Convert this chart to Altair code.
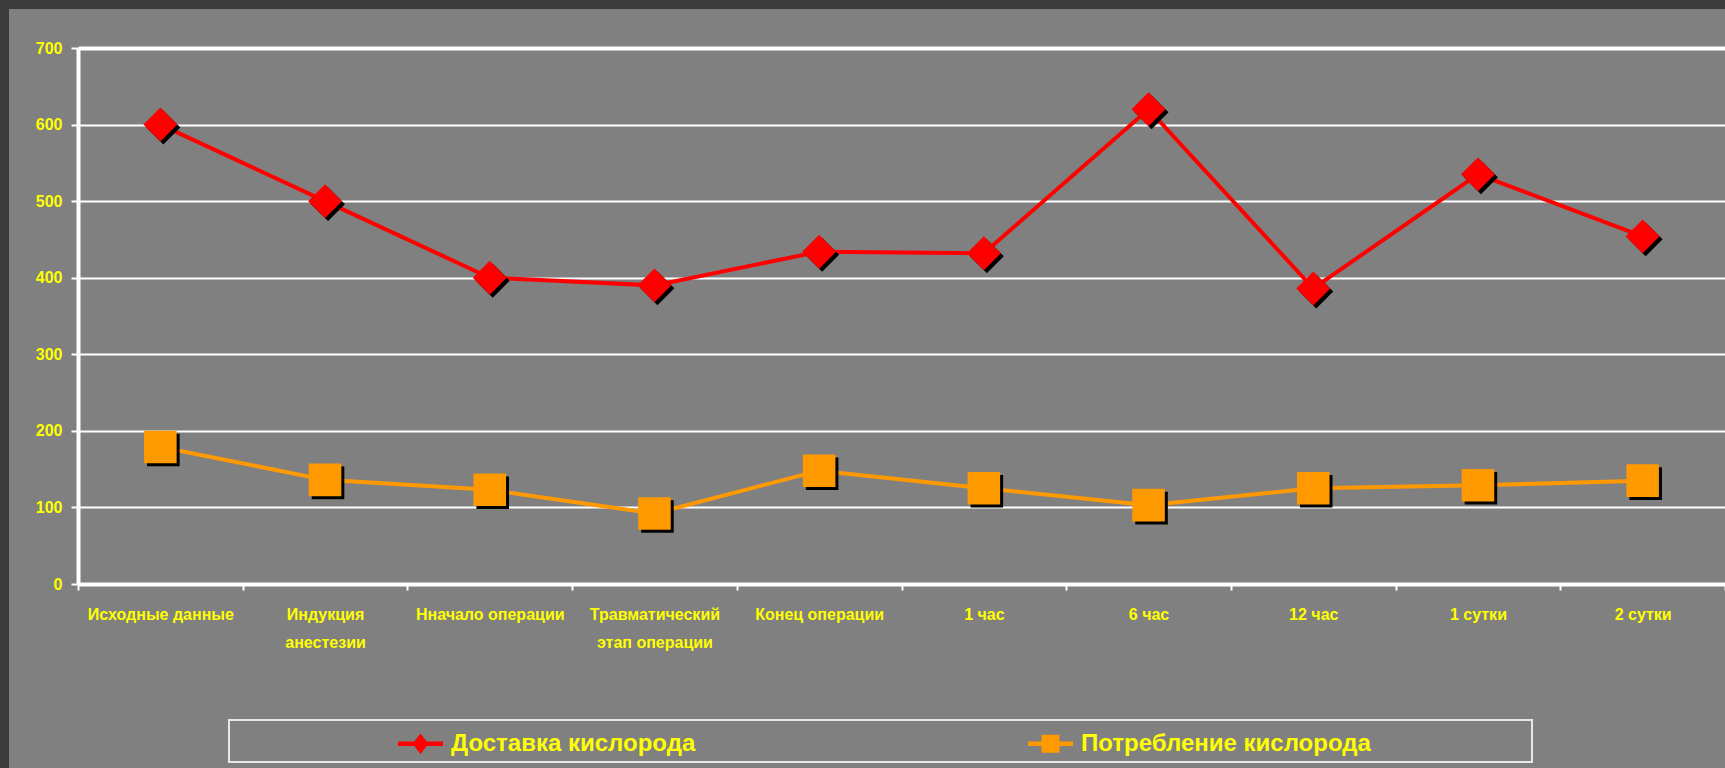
import altair as alt
import pandas as pd

# ---------------- data ----------------
categories = [
    "Исходные данные",
    "Индукция\nанестезии",
    "Нначало операции",
    "Травматический\nэтап операции",
    "Конец операции",
    "1 час",
    "6 час",
    "12 час",
    "1 сутки",
    "2 сутки",
]
series_names = ["Доставка кислорода", "Потребление кислорода"]
delivery = [600, 500, 400, 390, 434, 432, 620, 386, 535, 454]
consumption = [179, 136, 123, 92, 148, 125, 103, 125, 129, 135]
y_ticks = [0, 100, 200, 300, 400, 500, 600, 700]

series_colors = ["#FF0000", "#FF9900"]
marker_shapes = ["diamond", "square"]
marker_sizes = [1150, 1060]
legend_shapes = [
    "M-1,-0.1H1V0.1H-1Z M0,-0.46L0.36,0L0,0.46L-0.36,0Z",
    "M-1,-0.1H1V0.1H-1Z M-0.4,-0.4H0.4V0.4H-0.4Z",
]

rows = []
for c, v in zip(categories, delivery):
    rows.append({"cat": c, "series": series_names[0], "value": v})
for c, v in zip(categories, consumption):
    rows.append({"cat": c, "series": series_names[1], "value": v})
df = pd.DataFrame(rows)
one = pd.DataFrame({"k": [0]})

# ---------------- style ----------------
FONT = "'Liberation Sans', Arial, sans-serif"
YELLOW = "#FFFF00"
W, H = 1647, 536
PAD_L, PAD_T = 78, 48

x_enc = alt.X(
    "cat:N",
    sort=categories,
    scale=alt.Scale(domain=categories, paddingInner=0, paddingOuter=0),
    axis=alt.Axis(
        title=None,
        labelExpr="split(datum.label, '\\n')",
        labelAngle=0,
        labelColor=YELLOW,
        labelFont=FONT,
        labelFontSize=16,
        labelFontWeight="bold",
        labelLineHeight=28,
        labelBaseline="top",
        labelPadding=16,
        labelLimit=300,
        tickBand="extent",
        tickColor="white",
        tickWidth=2,
        tickSize=6,
        domainColor="white",
        domainWidth=4,
        grid=False,
    ),
)
y_enc = alt.Y(
    "value:Q",
    scale=alt.Scale(domain=[0, 700], nice=False, zero=True),
    axis=alt.Axis(
        title=None,
        values=y_ticks,
        labelColor=YELLOW,
        labelFont=FONT,
        labelFontSize=16,
        labelFontWeight="bold",
        labelPadding=9,
        tickColor="white",
        tickWidth=2,
        tickSize=7,
        domainColor="white",
        domainWidth=4,
        grid=True,
        gridColor="white",
        gridOpacity=1,
        gridWidth={"condition": {"test": "datum.value === 700", "value": 4}, "value": 2},
    ),
)

color_scale = alt.Scale(domain=series_names, range=series_colors)
shape_scale = alt.Scale(domain=series_names, range=marker_shapes)
size_scale = alt.Scale(domain=series_names, range=marker_sizes)

base = alt.Chart(df)

lines = base.mark_line(strokeWidth=4).encode(
    x=x_enc,
    y=y_enc,
    color=alt.Color("series:N", scale=color_scale, legend=None),
    detail="series:N",
)

shadows = base.mark_point(filled=True, color="black", opacity=1, xOffset=3, yOffset=3).encode(
    x=x_enc,
    y=y_enc,
    shape=alt.Shape("series:N", scale=shape_scale, legend=None),
    size=alt.Size("series:N", scale=size_scale, legend=None),
)

points = base.mark_point(filled=True, opacity=1).encode(
    x=x_enc,
    y=y_enc,
    color=alt.Color("series:N", scale=color_scale, legend=None),
    shape=alt.Shape("series:N", scale=shape_scale, legend=None),
    size=alt.Size("series:N", scale=size_scale, legend=None),
)

legend_def = alt.Legend(
    title=None,
    orient="none",
    legendX=320,
    legendY=673,
    direction="horizontal",
    columns=2,
    columnPadding=332,
    symbolSize=2025,
    symbolStrokeWidth=0,
    symbolOpacity=1,
    labelFont=FONT,
    labelFontSize=24,
    labelFontWeight="bold",
    labelColor=YELLOW,
    labelLimit=600,
    labelOffset=8,
)

legend_layer = base.transform_filter("false").mark_point(filled=True, opacity=1).encode(
    color=alt.Color("series:N", scale=color_scale, legend=legend_def),
    shape=alt.Shape("series:N", scale=alt.Scale(domain=series_names, range=legend_shapes), legend=legend_def),
)

# decorations: dark frame strips and legend box
dark_left = alt.Chart(one).mark_rect(color="#3b3b3b").encode(
    x=alt.value(-PAD_L), x2=alt.value(-PAD_L + 9), y=alt.value(-PAD_T), y2=alt.value(768 - PAD_T)
)
dark_top = alt.Chart(one).mark_rect(color="#3b3b3b").encode(
    x=alt.value(-PAD_L), x2=alt.value(W), y=alt.value(-PAD_T), y2=alt.value(-PAD_T + 9)
)
legend_box = alt.Chart(one).mark_rect(fill=None, stroke="#e8e8e8", strokeWidth=2, fillOpacity=0).encode(
    x=alt.value(229 - PAD_L), x2=alt.value(1532 - PAD_L), y=alt.value(720 - PAD_T), y2=alt.value(762 - PAD_T)
)

chart = (
    alt.layer(dark_left, dark_top, legend_box, lines, shadows, points, legend_layer)
    .resolve_scale(shape="independent", color="independent", size="independent")
    .properties(
        width=W,
        height=H,
        autosize=alt.AutoSizeParams(type="none"),
        padding={"left": PAD_L, "top": PAD_T, "right": 0, "bottom": 768 - PAD_T - H},
        background="#808080",
    )
    .configure_view(stroke=None)
)

chart.save("out.html", embed_options={"renderer": "svg", "actions": False})
